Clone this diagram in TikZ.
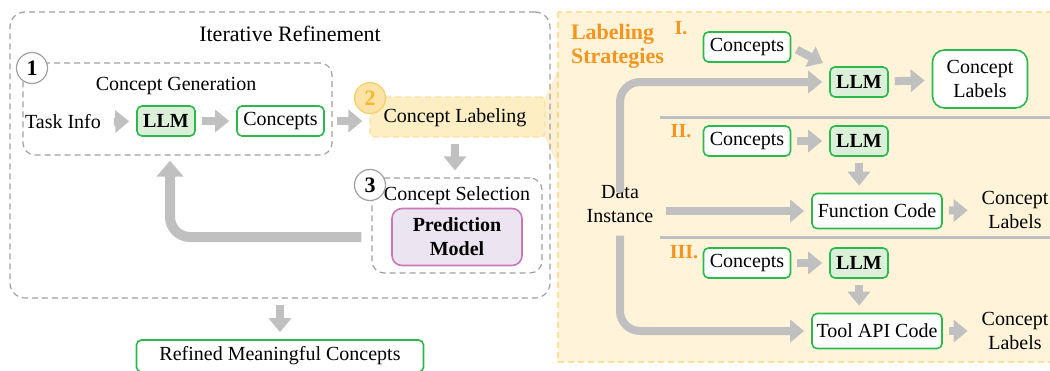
\documentclass[tikz,border=0pt]{standalone}
\usepackage{fontspec}
\setmainfont{Liberation Serif}
\usetikzlibrary{arrows.meta,positioning}

\definecolor{arrowgray}{HTML}{C0C0C0}
\definecolor{dashgray}{HTML}{A0A0A0}
\definecolor{boxgreen}{HTML}{2DB84D}
\definecolor{llmfill}{HTML}{DCEFD9}
\definecolor{panelfill}{HTML}{FFF4D9}
\definecolor{paneldraw}{HTML}{FBE0A0}
\definecolor{stratorange}{HTML}{F7941D}
\definecolor{numorange}{HTML}{F5B82E}
\definecolor{labelfill}{HTML}{FDEEC4}
\definecolor{predfill}{HTML}{ECE5F1}
\definecolor{preddraw}{HTML}{C878B8}

\tikzset{
  fat/.style={draw=arrowgray, line width=4pt,
    -{Triangle[length=7pt,width=11pt]}, shorten <=3pt, shorten >=3.5pt},
  groupbox/.style={draw=dashgray, line width=0.6pt, dash pattern=on 3pt off 2pt,
    rounded corners=6pt},
  greenbox/.style={draw=boxgreen, line width=0.8pt, fill=white, rounded corners=2.5pt,
    minimum height=15pt, inner sep=2pt},
  llmbox/.style={greenbox, fill=llmfill, font=\bfseries, minimum width=29pt},
  conbox/.style={greenbox, minimum width=43.5pt},
  codebox/.style={greenbox, minimum width=65pt, minimum height=17.5pt},
  stepnum/.style={circle, draw=dashgray, line width=0.6pt, fill=white,
    minimum size=15.5pt, inner sep=0pt, font=\fontsize{11}{12}\selectfont\bfseries},
  sepline/.style={draw=arrowgray, line width=1.5pt},
  roman/.style={text=stratorange, font=\bfseries},
}

\begin{document}
\begin{tikzpicture}[x=0.5pt,y=-0.5pt]
\useasboundingbox (0,0) rectangle (1050,370);

% labeling panel
\draw[fill=panelfill, draw=paneldraw, line width=0.8pt, dash pattern=on 3pt off 2pt]
  (558,12) rectangle (1060,362);
\fill[fill=numorange, opacity=0.22] (527,117) -- (546,96) -- (558,70) -- (558,166) -- (546,139) -- cycle;

% iterative refinement
\node[groupbox, rounded corners=7.5pt, minimum width=270pt, minimum height=143pt] (outer) at (280,155) {};
\node[font=\fontsize{11}{13}\selectfont] (title) at (290,34) {Iterative Refinement};

% step 1
\node[groupbox, minimum width=154.5pt, minimum height=46pt] (gen) at (177.5,109) {};
\node (gentitle) at (176,86) {Concept Generation};
\node (task) at (63,122) {Task Info};
\node[llmbox] (llmA) at (166,121) {LLM};
\node[conbox] (conGen) at (280.5,121) {Concepts};
\draw[fat] (task) -- (llmA);
\draw[fat] (llmA) -- (conGen);
\node[stepnum] (one) at (32,68) {1};

% step 2
\node[groupbox, fill=labelfill, draw=paneldraw, rounded corners=2pt, minimum width=87.5pt, minimum height=20pt] (label) at (457.5,117) {};
\node (labeltext) at (455,118) {Concept Labeling};
\node[stepnum, fill=labelfill!80!numorange, draw=numorange!70, text=numorange] (two) at (370,98) {2};
\draw[fat, shorten <=2pt] (gen.east |- conGen) -- (label.west |- conGen);

% step 3
\node[groupbox, minimum width=85pt, minimum height=47.5pt] (sel) at (457,225.5) {};
\node (seltitle) at (457,196) {Concept Selection};
\node[draw=preddraw, fill=predfill, line width=0.8pt, rounded corners=5pt, font=\bfseries,
  align=center, minimum width=65pt, minimum height=28.5pt] (pred) at (457,237) {Prediction\\Model};
\node[stepnum] (three) at (370,185) {3};
\draw[fat] (label.south -| labeltext) -- (sel.north -| labeltext);
\draw[fat, line width=5pt, -{Triangle[length=8pt,width=13pt]}, rounded corners=10pt, shorten <=5pt, shorten >=2.5pt]
  (sel.west |- pred) -| ([xshift=2pt]llmA.south |- gen.south);

% output
\node[greenbox, minimum width=143.5pt, minimum height=16pt] (refined) at (280,356) {Refined Meaningful Concepts};
\draw[fat] (outer.south -| refined) -- (refined);

% strategies
\node[anchor=north west, align=left, text=stratorange, font=\fontsize{11}{12}\selectfont\bfseries]
  (strat) at (564,17) {Labeling\\Strategies};
\node[roman] (rI) at (681,28) {I.};
\node[roman] (rII) at (681,131) {II.};
\node[roman] (rIII) at (684,252) {III.};
\draw[sepline] (660,117) -- (1050,117);
\draw[sepline] (660,237) -- (1050,237);

\node[align=center] (data) at (620,204) {Data\\Instance};

% strategy I
\node[conbox] (conA) at (747,47) {Concepts};
\node[llmbox] (llmI) at (859,82) {LLM};
\node[greenbox, rounded corners=6pt, align=center, minimum width=47.5pt, minimum height=29pt] (labI) at (980,79) {Concept\\Labels};
\draw[fat] (conA.east) -- (llmI.north west);
\draw[fat, rounded corners=10pt, shorten <=-7pt] (data.north) |- (llmI.west);
\draw[fat] (llmI) -- (labI);

% strategy II
\node[conbox] (conB) at (747,141) {Concepts};
\node[llmbox] (llmB) at (859,141) {LLM};
\node[codebox] (func) at (877,211) {Function Code};
\node[align=center] (labB) at (1015,210) {Concept\\Labels};
\draw[fat] (conB) -- (llmB);
\draw[fat] (llmB) -- (llmB |- func.north);
\draw[fat] (data.east |- func) -- (func.west);
\draw[fat] (func) -- (labB);

% strategy III
\node[conbox] (conC) at (747,263) {Concepts};
\node[llmbox] (llmC) at (859,263) {LLM};
\node[codebox] (tool) at (877,331) {Tool API Code};
\node[align=center] (labC) at (1015,331) {Concept\\Labels};
\draw[fat] (conC) -- (llmC);
\draw[fat] (llmC) -- (llmC |- tool.north);
\draw[fat, rounded corners=10pt] (data.south) |- (tool.west);
\draw[fat] (tool) -- (labC);

\end{tikzpicture}
\end{document}
